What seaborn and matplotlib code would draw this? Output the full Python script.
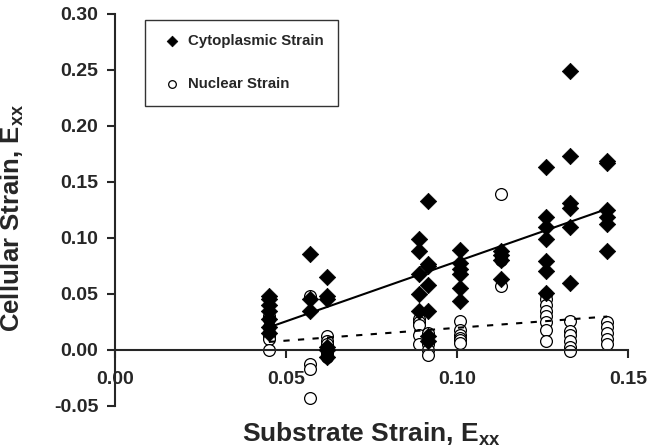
import pandas as pd
import matplotlib
matplotlib.use("Agg")
import matplotlib.pyplot as plt
import seaborn as sns

# substrate strain columns (x) and the cell strains read at each one
cyto_x = [0.045] * 7 + [0.057] * 3 + [0.062] * 6 + [0.089] * 5 + [0.0915] * 7 \
    + [0.101] * 6 + [0.113] * 4 + [0.126] * 7 + [0.133] * 6 + [0.144] * 6
cyto_y = [0.048, 0.045, 0.040, 0.035, 0.028, 0.020, 0.015,
          0.086, 0.045, 0.035,
          0.065, 0.048, 0.045, 0.003, 0.000, -0.006,
          0.099, 0.088, 0.068, 0.050, 0.035,
          0.133, 0.077, 0.075, 0.058, 0.035, 0.012, 0.008,
          0.089, 0.078, 0.072, 0.068, 0.055, 0.044,
          0.088, 0.085, 0.080, 0.063,
          0.163, 0.119, 0.110, 0.099, 0.079, 0.070, 0.051,
          0.249, 0.173, 0.131, 0.127, 0.110, 0.060,
          0.169, 0.167, 0.125, 0.119, 0.112, 0.088]

# some circles sit behind diamonds
nuc_x = [0.045] * 7 + [0.057] * 4 + [0.062] * 7 + [0.089] * 5 + [0.0915] * 4 \
    + [0.101] * 6 + [0.113] * 4 + [0.126] * 8 + [0.133] * 6 + [0.144] * 5
nuc_y = [0.030, 0.028, 0.020, 0.015, 0.012, 0.010, 0.000,
         0.048, -0.013, -0.017, -0.043,
         0.012, 0.008, 0.005, 0.002, 0.000, -0.003, -0.006,
         0.028, 0.025, 0.022, 0.013, 0.005,
         0.015, 0.005, 0.000, -0.005,
         0.026, 0.018, 0.013, 0.011, 0.009, 0.006,
         0.139, 0.084, 0.080, 0.057,
         0.050, 0.045, 0.040, 0.035, 0.030, 0.025, 0.018, 0.008,
         0.026, 0.017, 0.013, 0.008, 0.003, -0.001,
         0.025, 0.020, 0.015, 0.010, 0.005]

series = ["Cytoplasmic Strain", "Nuclear Strain"]

df = pd.DataFrame({
    "x": cyto_x + nuc_x,
    "y": cyto_y + nuc_y,
    "kind": [series[0]] * len(cyto_x) + [series[1]] * len(nuc_x),
})

sns.set_style("ticks")
plt.rcParams["font.family"] = ["Liberation Sans", "DejaVu Sans"]
plt.rcParams["font.weight"] = "bold"
plt.rcParams["mathtext.fontset"] = "custom"
plt.rcParams["mathtext.rm"] = "Liberation Sans:bold"
plt.rcParams["mathtext.bf"] = "Liberation Sans:bold"
plt.rcParams["mathtext.default"] = "bf"

fig = plt.figure(figsize=(6.65, 4.48), dpi=100)
ax = fig.add_axes([0.173, 0.094, 0.771, 0.875])

sns.scatterplot(data=df[df.kind == series[0]], x="x", y="y", marker="D",
                color="black", edgecolor="black", s=70, linewidth=0.5,
                label=series[0], ax=ax, zorder=3)
sns.scatterplot(data=df[df.kind == series[1]], x="x", y="y", marker="o",
                facecolor="white", edgecolor="black", s=72, linewidth=0.9,
                label=series[1], ax=ax, zorder=2)

sns.regplot(data=df[df.kind == series[0]], x="x", y="y", scatter=False,
            ci=None, color="black", line_kws={"lw": 1.5, "zorder": 4}, ax=ax)
sns.regplot(data=df[df.kind == series[1]], x="x", y="y", scatter=False,
            ci=None, color="black",
            line_kws={"lw": 1.5, "ls": (0, (3, 4)), "zorder": 4}, ax=ax)

ax.set_xlim(0, 0.15)
ax.set_ylim(-0.05, 0.30)
ax.set_xticks([0.00, 0.05, 0.10, 0.15])
ax.set_xticklabels(["0.00", "0.05", "0.10", "0.15"])
ax.set_yticks([-0.05, 0.00, 0.05, 0.10, 0.15, 0.20, 0.25, 0.30])
ax.set_yticklabels(["-0.05", "0.00", "0.05", "0.10", "0.15", "0.20", "0.25", "0.30"])
ax.get_xticklabels()[0].set_ha("left")

ax.spines["bottom"].set_position(("data", 0))
ax.spines["top"].set_visible(False)
ax.spines["right"].set_visible(False)
for sp in ["bottom", "left"]:
    ax.spines[sp].set_linewidth(1.5)
ax.tick_params(axis="both", width=1.5, length=6, labelsize=14, pad=6)
ax.tick_params(axis="x", pad=9)

ax.set_xlabel(r"Substrate Strain, E$_{xx}$", fontsize=19, fontweight="bold")
ax.set_ylabel(r"Cellular Strain, E$_{xx}$", fontsize=18.5, fontweight="bold")
ax.xaxis.label.set_va("center")
ax.xaxis.set_label_coords(0.5, (406 - 435) / 392)
ax.yaxis.set_label_coords((26 - 115) / 513, 0.48)

leg = ax.legend(loc="upper left", bbox_to_anchor=(0.058, 0.985), frameon=True,
                fancybox=False, edgecolor="black", markerscale=0.65,
                prop={"size": 10.8, "weight": "bold"}, labelspacing=1.95,
                borderpad=0.95, handletextpad=0.25, handlelength=1.7,
                borderaxespad=0)
leg.get_frame().set_linewidth(1.0)

fig.savefig("out.png", dpi=100)
